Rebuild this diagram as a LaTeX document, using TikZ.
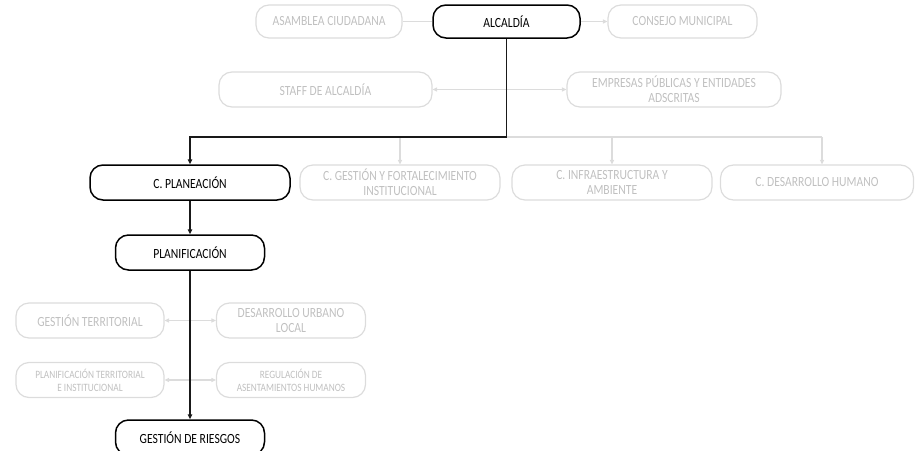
\documentclass[tikz,border=0pt]{standalone}
\usepackage{fontspec}
\setmainfont{Carlito}[FakeStretch=0.83]
\usetikzlibrary{arrows.meta}
\definecolor{lg}{HTML}{DCDCDC}
\definecolor{lt}{HTML}{C0C0C0}
\begin{document}
\begin{tikzpicture}[x=1pt,y=-1pt,
  base/.style={rectangle, rounded corners=13pt, inner sep=1pt, align=center,
    minimum height=35pt, font=\fontsize{14}{15}\selectfont},
  bbox/.style={base, draw=black, line width=1.5pt, text=black},
  gbox/.style={base, draw=lg, line width=1.2pt, text=lt},
  small/.style={font=\fontsize{11.2}{13}\selectfont},
  bk/.style={draw=black!90, line width=1.4pt, -{Triangle[length=5pt,width=4.5pt]}},
  gl/.style={draw=lg, line width=1.2pt},
  ga/.style={gl, -{Triangle[length=4.5pt,width=4pt]}},
  gda/.style={gl, {Triangle[length=4.5pt,width=4pt]}-{Triangle[length=4.5pt,width=4pt]}}]
\useasboundingbox (0,0) rectangle (915,450);

% nodes
\node[gbox, minimum width=146pt, minimum height=33pt] (asa) at (329,21.5) {ASAMBLEA CIUDADANA};
\node[bbox, minimum width=147pt, minimum height=33pt] (alc) at (506.5,21.5) {ALCALDÍA};
\node[gbox, minimum width=149pt, minimum height=33pt] (con) at (682.5,21.5) {CONSEJO MUNICIPAL};
\node[gbox, minimum width=213pt] (staff) at (325.5,89.5) {STAFF DE ALCALDÍA};
\node[gbox, minimum width=214pt] (emp) at (674,89.5) {EMPRESAS PÚBLICAS Y ENTIDADES\\ADSCRITAS};
\node[bbox, minimum width=200pt] (cpl) at (190,182.5) {C. PLANEACIÓN};
\node[gbox, minimum width=200pt] (cgest) at (400,182.5) {C. GESTIÓN Y FORTALECIMIENTO\\INSTITUCIONAL};
\node[gbox, minimum width=200pt] (cinf) at (612,182.5) {C. INFRAESTRUCTURA Y\\AMBIENTE};
\node[gbox, minimum width=193pt] (cdh) at (817,182.5) {C. DESARROLLO HUMANO};
\node[bbox, minimum width=149pt] (plf) at (190,252.5) {PLANIFICACIÓN};
\node[gbox, minimum width=148pt] (gt) at (90,320.5) {GESTIÓN TERRITORIAL};
\node[gbox, minimum width=149pt] (du) at (291,320.5) {DESARROLLO URBANO\\LOCAL};
\node[gbox, small, minimum width=148pt] (pt) at (90,380) {PLANIFICACIÓN TERRITORIAL\\E INSTITUCIONAL};
\node[gbox, small, minimum width=149pt] (ra) at (291,380) {REGULACIÓN DE\\ASENTAMIENTOS HUMANOS};
\node[bbox, minimum width=149pt] (gr) at (190,437.5) {GESTIÓN DE RIESGOS};

% gray connectors
\coordinate (j) at (506.5,137);
\coordinate (j4) at (822,137);
\draw[gl] (asa) -- (alc);
\draw[ga] (alc) -- (con);
\draw[gda] (staff) -- (emp);
\draw[gl] (j) -- (j4);
\draw[ga] (cgest.north |- j) -- (cgest.north);
\draw[ga] (cinf.north |- j) -- (cinf.north);
\draw[ga] (j4) -- (j4 |- cdh.north);
\draw[gda] (gt) -- (du);
\draw[gda] (pt) -- (ra);

% black connectors
\draw[bk] (alc.south) -- (j) -| (cpl.north);
\draw[bk] (cpl) -- (plf);
\draw[bk] (plf) -- (gr);
\end{tikzpicture}
\end{document}
